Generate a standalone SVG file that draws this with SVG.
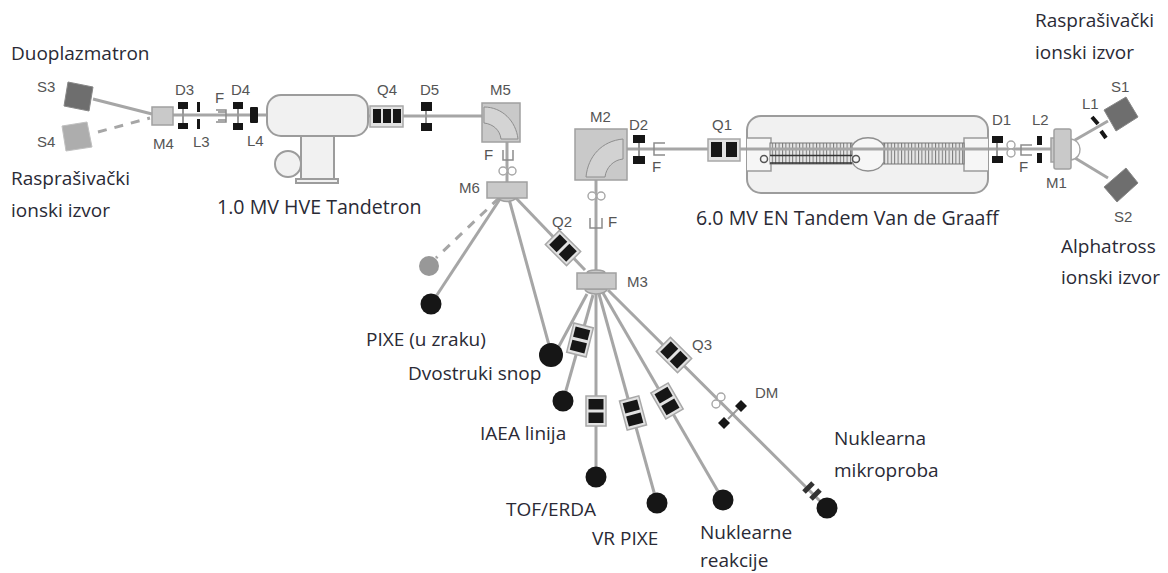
<svg xmlns="http://www.w3.org/2000/svg" width="1168" height="573" viewBox="0 0 1168 573">
<style>
text{font-family:"Open Sans","Noto Sans",sans-serif}
.t{font-size:19px;fill:#2a2a35}
.w{font-size:19.600px}
.g{font-family:"Liberation Sans",Arial,sans-serif;font-size:15px;fill:#555}
.b{stroke:#a6a6a6;stroke-width:3;fill:none}
.thin{stroke:#999;stroke-width:2;fill:none}
.d{stroke:#a6a6a6;stroke-width:3;fill:none;stroke-dasharray:9 8}
.k{fill:#161616}
.box{fill:#e2e2e2;stroke:#a8a8a8;stroke-width:1.5}
.mag{fill:#c9c9c9;stroke:#a0a0a0;stroke-width:1.5}
.src{fill:#6e6e6e;stroke:#888;stroke-width:1}
.o{fill:#fff;stroke:#a6a6a6;stroke-width:1.4}
.tank{fill:#f1f1f1;stroke:#9c9c9c;stroke-width:2}
.fc{fill:none;stroke:#8c8c8c;stroke-width:1.5}
</style>
<defs>
<g id="quad"><rect x="-10" y="-15" width="20" height="30" class="box"/><rect x="-7.500" y="-12" width="15" height="10.500" class="k"/><rect x="-7.500" y="1.500" width="15" height="10.500" class="k"/></g>
<pattern id="hatch" width="3.400" height="8" patternUnits="userSpaceOnUse"><rect width="3.400" height="8" fill="#e6e6e6"/><rect width="1" height="8" fill="#777"/></pattern>
</defs>

<g id="connectors">
<path class="b" d="M93 99L152 114"/>
<path class="d" d="M98 132L150 118"/>
<path class="b" d="M173 115H267"/>
<path class="b" d="M368 116H482"/>
<path class="b" d="M507 142V183"/>
<path class="d" d="M499 198L436 258"/>
<path class="b" d="M500 199L431 304"/>
<path class="b" d="M509 199L549 345"/>
<path class="b" d="M515 197L585 270"/>
<path class="b" d="M596 180V272"/>
<path class="b" d="M627 149H1054"/>
<path class="b" d="M1075 140L1108 121"/>
<path class="b" d="M1075 158L1108 178"/>
<path class="b" d="M587 294L558 348"/>
<path class="b" d="M593 295L563 401"/>
<path class="b" d="M596 294V477"/>
<path class="b" d="M599 294L657 503"/>
<path class="b" d="M603 293L723 500"/>
<path class="b" d="M608 290L827 508"/>
</g>

<g id="S3"><path class="src" d="M68 82L93 87L89 111L64 106Z"/></g>
<g id="S4"><path fill="#adadad" stroke="#c0c0c0" d="M62 126L87 122L92 147L66 151Z"/></g>
<g id="M4"><rect class="mag" x="152" y="107" width="21" height="18"/></g>
<g id="D3"><path class="thin" d="M183 109V123"/><rect class="k" x="178" y="102" width="10" height="7"/><rect class="k" x="178" y="123" width="10" height="6"/></g>
<g id="L3"><rect class="k" x="197" y="102" width="3" height="10"/><rect class="k" x="197" y="119" width="3" height="10"/></g>
<g id="F3"><path class="fc" d="M216 110H226V122H216M226 112H218M226 120H218"/></g>
<g id="D4"><path class="thin" d="M238 109V123"/><rect class="k" x="233" y="102" width="10" height="7"/><rect class="k" x="233" y="123" width="10" height="7"/></g>
<g id="L4"><rect class="k" x="250" y="107" width="8" height="16" rx="1"/></g>

<g id="tandetron">
<circle class="tank" cx="288" cy="164" r="13"/>
<rect class="tank" x="301" y="136" width="33" height="43"/>
<rect class="tank" x="296" y="179" width="42" height="4"/>
<rect class="tank" x="267" y="95" width="101" height="41" rx="14"/>
</g>
<g id="Q4"><rect class="box" x="370" y="106" width="33" height="21"/><rect class="k" x="373" y="109" width="8" height="14"/><rect class="k" x="383" y="109" width="8" height="14"/><rect class="k" x="393" y="109" width="8" height="14"/></g>
<g id="D5"><path class="thin" d="M426 111V123"/><rect class="k" x="421" y="102" width="11" height="9"/><rect class="k" x="421" y="123" width="11" height="8"/></g>
<g id="M5"><rect class="mag" x="482" y="103" width="38" height="39"/><path fill="#d4d4d4" stroke="#8e8e8e" d="M484 107C502 107 516 121 518 139H501C500 130 493 124 484 123Z"/></g>
<g id="F5"><path class="fc" d="M503 150V160H513V150"/></g>
<g id="loops5"><circle class="o" cx="503" cy="171" r="4"/><circle class="o" cx="512" cy="171" r="4"/></g>
<g id="M6"><path class="mag" d="M498 198A10 6 0 0 0 516 198Z"/><rect class="mag" x="487" y="182" width="40" height="16"/></g>

<g id="M2"><rect class="mag" x="575" y="129" width="52" height="51"/><path fill="#d2d2d2" stroke="#8e8e8e" d="M623 139C602 141 588 156 586 177H605C606 168 613 160 623 159Z"/></g>
<g id="D2"><path class="thin" d="M639 143V156"/><rect class="k" x="633" y="135" width="12" height="8"/><rect class="k" x="633" y="156" width="12" height="8"/></g>
<g id="F2"><path class="fc" d="M665 143H654V155H665"/></g>
<g id="Q1"><rect class="box" x="708" y="139" width="32" height="22"/><rect class="k" x="711" y="142" width="11" height="15"/><rect class="k" x="726" y="142" width="11" height="15"/></g>
<g id="loopsM2"><circle class="o" cx="592" cy="196" r="4"/><circle class="o" cx="601" cy="196" r="4"/></g>
<g id="FM2"><path class="fc" d="M590 218V228H602V218"/></g>
<g id="Q2"><use href="#quad" transform="translate(563 248) rotate(-45)"/></g>
<g id="M3"><path class="mag" d="M587 273A9 3 0 0 1 605 273Z"/><path class="mag" d="M585 289A11 5 0 0 0 607 289Z"/><rect class="mag" x="577" y="273" width="39" height="16"/></g>

<g id="tandem">
<rect class="tank" x="747" y="116" width="241" height="77" rx="14"/>
<path fill="#f6f6f6" stroke="#9c9c9c" stroke-width="1.500" d="M747 138H771V171H747"/>
<path fill="#f6f6f6" stroke="#9c9c9c" stroke-width="1.500" d="M988 138H964V171H988"/>
<rect x="770" y="143" width="82" height="21" fill="url(#hatch)" stroke="#777" stroke-width="1"/>
<rect x="883" y="143" width="81" height="21" fill="url(#hatch)" stroke="#777" stroke-width="1"/>
<path fill="#f6f6f6" stroke="#8e8e8e" stroke-width="1.500" d="M852 146C858 135 878 135 884 146V162C878 174 858 174 852 162Z"/>
<path class="b" d="M747 149H988"/>
<path d="M770 155H852V163H770Z" fill="url(#hatch)"/>
<path d="M770 155.500H852M770 163H852" stroke="#333" stroke-width="1.500" fill="none"/>
<circle cx="764" cy="159" r="3.500" fill="#f6f6f6" stroke="#555" stroke-width="1.500"/>
<circle cx="856" cy="159" r="3.500" fill="#f6f6f6" stroke="#555" stroke-width="1.500"/>
</g>
<g id="D1"><path class="thin" d="M997 143V156"/><rect class="k" x="992" y="136" width="11" height="7"/><rect class="k" x="992" y="156" width="11" height="7"/></g>
<g id="loopsD1"><circle class="o" cx="1011" cy="145" r="4"/><circle class="o" cx="1011" cy="153" r="4"/></g>
<g id="F1"><path class="fc" d="M1032 145H1021V155H1032"/></g>
<g id="L2"><rect class="k" x="1037" y="136" width="5" height="9"/><rect class="k" x="1037" y="153" width="5" height="10"/></g>
<g id="M1"><path class="o" d="M1071 139C1082 140 1084 158 1071 160Z"/><rect class="mag" x="1051" y="138" width="5" height="24"/><rect class="mag" x="1054" y="129" width="17" height="40" rx="2"/></g>
<g id="L1"><path stroke="#161616" stroke-width="4" d="M1092 117L1098 124M1101 131L1106 138"/></g>
<g id="S1"><path class="src" d="M1104 110L1126 97L1138 117L1116 131Z"/></g>
<g id="S2"><path class="src" d="M1104 187L1126 168L1138 183L1117 202Z"/></g>

<g id="endGrey"><circle cx="429" cy="266" r="10" fill="#989898"/></g>
<g id="endPixeZrak"><circle class="k" cx="431" cy="304" r="10.500"/></g>
<g id="endDvostruki"><circle class="k" cx="551" cy="355" r="12"/></g>
<g id="endIAEA"><circle class="k" cx="563" cy="401" r="10.500"/></g>
<g id="endTOF"><circle class="k" cx="596" cy="477" r="10.500"/></g>
<g id="endVR"><circle class="k" cx="657" cy="503" r="10.500"/></g>
<g id="endNR"><circle class="k" cx="723" cy="500" r="10.500"/></g>
<g id="endMicro"><circle class="k" cx="827" cy="508" r="10.500"/></g>

<g id="QIAEA"><use href="#quad" transform="translate(580 340) rotate(14)"/></g>
<g id="QTOF"><use href="#quad" transform="translate(596 411)"/></g>
<g id="QVR"><use href="#quad" transform="translate(633 413) rotate(-15)"/></g>
<g id="QNR"><use href="#quad" transform="translate(667 401) rotate(-30)"/></g>
<g id="Q3"><use href="#quad" transform="translate(674 355) rotate(-45)"/></g>
<g id="loopsDM"><circle class="o" cx="716" cy="404" r="4"/><circle class="o" cx="721" cy="397" r="4"/></g>
<g id="DM"><path class="thin" d="M728 419L738 409"/><path class="k" d="M741 400L747 406L741 412L735 406Z"/><path class="k" d="M724 417L730 423L724 429L718 423Z"/></g>
<g id="micro"><path stroke="#333" stroke-width="5" d="M804 492L813 483M811 499L820 490"/></g>

<g id="labels">
<text class="t" x="11" y="60">Duoplazmatron</text>
<text class="t" x="11" y="185">Rasprašivački</text>
<text class="t" x="11" y="217">ionski izvor</text>
<text class="t w" x="217" y="214">1.0 MV HVE Tandetron</text>
<text class="t w" x="696" y="225">6.0 MV EN Tandem Van de Graaff</text>
<text class="t" x="1035" y="27">Rasprašivački</text>
<text class="t" x="1035" y="59">ionski izvor</text>
<text class="t" x="1061" y="253">Alphatross</text>
<text class="t" x="1061" y="284">ionski izvor</text>
<text class="t" x="366" y="346">PIXE (u zraku)</text>
<text class="t" x="408" y="380">Dvostruki snop</text>
<text class="t" x="480" y="440">IAEA linija</text>
<text class="t" x="506" y="516">TOF/ERDA</text>
<text class="t" x="592" y="545">VR PIXE</text>
<text class="t" x="700" y="539">Nuklearne</text>
<text class="t" x="700" y="567">reakcije</text>
<text class="t" x="834" y="445">Nuklearna</text>
<text class="t" x="834" y="477">mikroproba</text>
<text class="g" x="37" y="92">S3</text>
<text class="g" x="37" y="147">S4</text>
<text class="g" x="153" y="149">M4</text>
<text class="g" x="175" y="95">D3</text>
<text class="g" x="215" y="103">F</text>
<text class="g" x="193" y="147">L3</text>
<text class="g" x="231" y="95">D4</text>
<text class="g" x="247" y="146">L4</text>
<text class="g" x="377" y="95">Q4</text>
<text class="g" x="420" y="95">D5</text>
<text class="g" x="490" y="95">M5</text>
<text class="g" x="484" y="160">F</text>
<text class="g" x="459" y="193">M6</text>
<text class="g" x="552" y="227">Q2</text>
<text class="g" x="590" y="122">M2</text>
<text class="g" x="629" y="130">D2</text>
<text class="g" x="652" y="172">F</text>
<text class="g" x="608" y="227">F</text>
<text class="g" x="712" y="130">Q1</text>
<text class="g" x="627" y="287">M3</text>
<text class="g" x="992" y="125">D1</text>
<text class="g" x="1019" y="172">F</text>
<text class="g" x="1032" y="125">L2</text>
<text class="g" x="1082" y="109">L1</text>
<text class="g" x="1111" y="92">S1</text>
<text class="g" x="1114" y="222">S2</text>
<text class="g" x="1046" y="188">M1</text>
<text class="g" x="692" y="350">Q3</text>
<text class="g" x="755" y="398">DM</text>
</g>
</svg>
